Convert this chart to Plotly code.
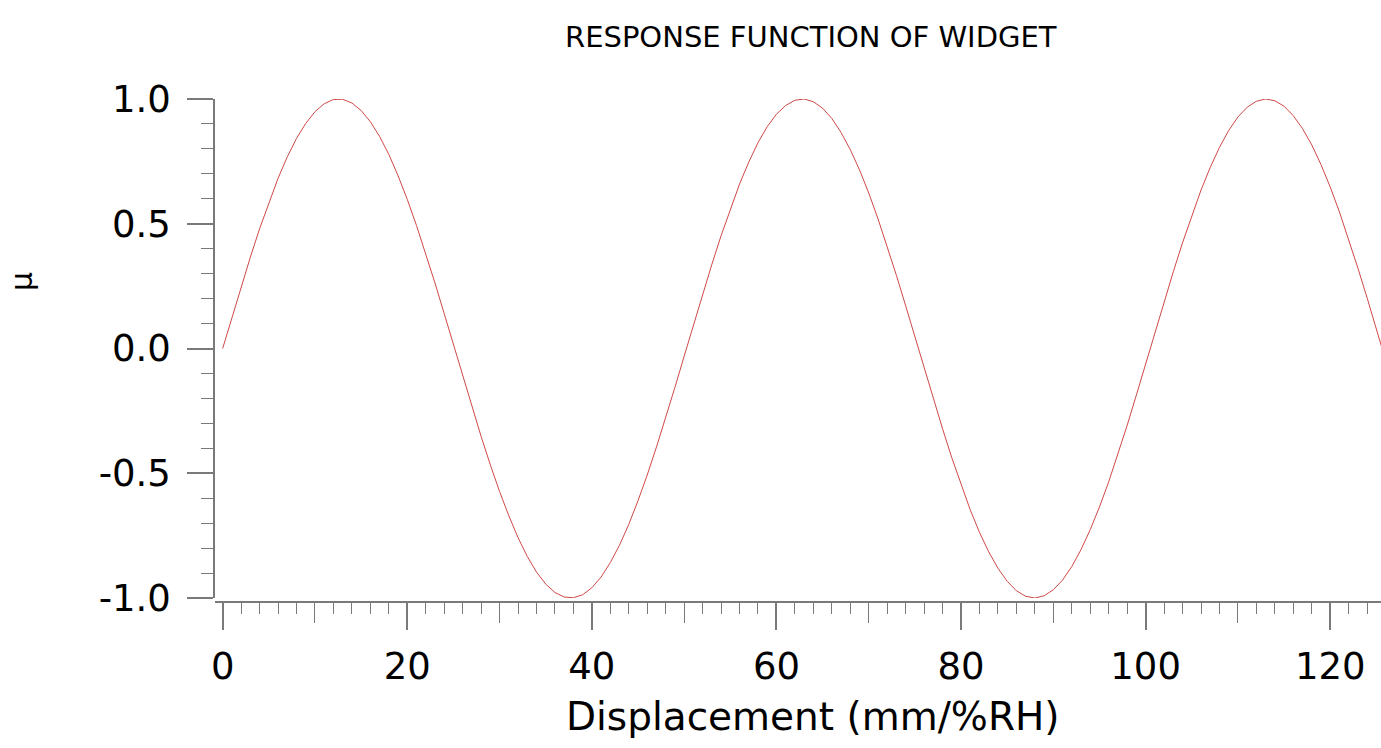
import plotly.graph_objects as go

# Data (one sample per unit of displacement)
displacement = list(range(0, 127))
response = [
    0.000, 0.125, 0.248, 0.366, 0.480, 0.585, 0.682, 0.768, 0.842, 0.902,
    0.949, 0.981, 0.998, 0.999, 0.984, 0.954, 0.909, 0.850, 0.778, 0.693,
    0.598, 0.493, 0.381, 0.263, 0.140, 0.016, -0.109, -0.232, -0.352, -0.466,
    -0.573, -0.670, -0.758, -0.833, -0.896, -0.944, -0.978, -0.996, -0.999, -0.987,
    -0.959, -0.916, -0.858, -0.788, -0.705, -0.610, -0.507, -0.395, -0.278, -0.156,
    -0.031, 0.094, 0.217, 0.337, 0.452, 0.560, 0.659, 0.747, 0.825, 0.889,
    0.939, 0.974, 0.995, 1.000, 0.989, 0.963, 0.922, 0.866, 0.797, 0.716,
    0.623, 0.520, 0.410, 0.293, 0.171, 0.047, -0.078, -0.202, -0.322, -0.438,
    -0.547, -0.647, -0.737, -0.815, -0.881, -0.933, -0.971, -0.993, -1.000, -0.991,
    -0.967, -0.928, -0.874, -0.806, -0.726, -0.635, -0.534, -0.424, -0.308, -0.186,
    -0.062, 0.063, 0.187, 0.308, 0.424, 0.534, 0.635, 0.726, 0.806, 0.874,
    0.928, 0.967, 0.991, 1.000, 0.993, 0.971, 0.933, 0.881, 0.816, 0.737,
    0.647, 0.547, 0.438, 0.322, 0.202, 0.078, -0.047,
]

x_major = [0, 20, 40, 60, 80, 100, 120]
x_medium = [10, 30, 50, 70, 90, 110, 130]
y_major = [-1.0, -0.5, 0.0, 0.5, 1.0]
y_major_labels = ["-1.0", "-0.5", "0.0", "0.5", "1.0"]

title_text = "RESPONSE FUNCTION OF WIDGET"
x_title = "Displacement (mm/%RH)"
y_title = "μ"

axis_color = "#7a7a7a"
font_family = "DejaVu Sans"
xrange = [-0.83, 125.5]

fig = go.Figure()
fig.add_trace(go.Scatter(
    x=displacement, y=response, mode="lines",
    line=dict(color="#d04848", width=1), showlegend=False,
    hoverinfo="skip",
))
# invisible trace on overlay axis for medium ticks
fig.add_trace(go.Scatter(x=[xrange[0]], y=[0], xaxis="x2", mode="markers",
                         marker=dict(opacity=0), showlegend=False, hoverinfo="skip"))

fig.update_layout(
    width=1381, height=748,
    margin=dict(l=215, r=0, t=99, b=146),
    paper_bgcolor="white", plot_bgcolor="white",
    font=dict(family=font_family, color="black"),
    xaxis=dict(
        range=xrange, anchor="free", position=0,
        showgrid=False, zeroline=False,
        showline=True, linecolor=axis_color, linewidth=1.5,
        tickmode="array", tickvals=x_major, ticktext=[str(v) for v in x_major],
        ticks="outside", ticklen=27, tickwidth=1.5, tickcolor=axis_color,
        tickfont=dict(size=37, family=font_family),
        ticklabelstandoff=5,
        minor=dict(dtick=2, tick0=0, ticks="outside", ticklen=11,
                   tickwidth=1.2, tickcolor=axis_color, showgrid=False),
    ),
    xaxis2=dict(
        range=xrange, overlaying="x", anchor="free", position=0, side="bottom",
        showgrid=False, zeroline=False, showline=False,
        tickmode="array", tickvals=x_medium, showticklabels=False,
        ticks="outside", ticklen=20, tickwidth=1.2, tickcolor=axis_color,
    ),
    yaxis=dict(
        range=[-1.0, 1.0], domain=[4 / 503, 1],
        showgrid=False, zeroline=False,
        showline=True, linecolor=axis_color, linewidth=1.5,
        tickmode="array", tickvals=y_major, ticktext=y_major_labels,
        ticks="outside", ticklen=26, tickwidth=1.5, tickcolor=axis_color,
        tickfont=dict(size=37, family=font_family),
        ticklabelstandoff=9,
        minor=dict(dtick=0.1, tick0=0, ticks="outside", ticklen=12,
                   tickwidth=1.2, tickcolor=axis_color, showgrid=False),
    ),
    annotations=[
        dict(text=title_text, xref="paper", yref="paper", x=0.511, y=1.123,
             showarrow=False, xanchor="center", yanchor="middle",
             font=dict(size=29, family=font_family)),
        dict(text=x_title, xref="paper", yref="paper", x=0.513, y=-0.2286,
             showarrow=False, xanchor="center", yanchor="middle",
             font=dict(size=39, family=font_family)),
        dict(text=y_title, xref="paper", yref="paper", x=-0.1664, y=0.638,
             showarrow=False, xanchor="center", yanchor="middle", textangle=-90,
             font=dict(size=30, family=font_family)),
    ],
)

fig.write_html(
    "out.html",
    config={"displayModeBar": False},
    post_script="document.body.style.margin='0';document.body.style.overflow='hidden';",
)
